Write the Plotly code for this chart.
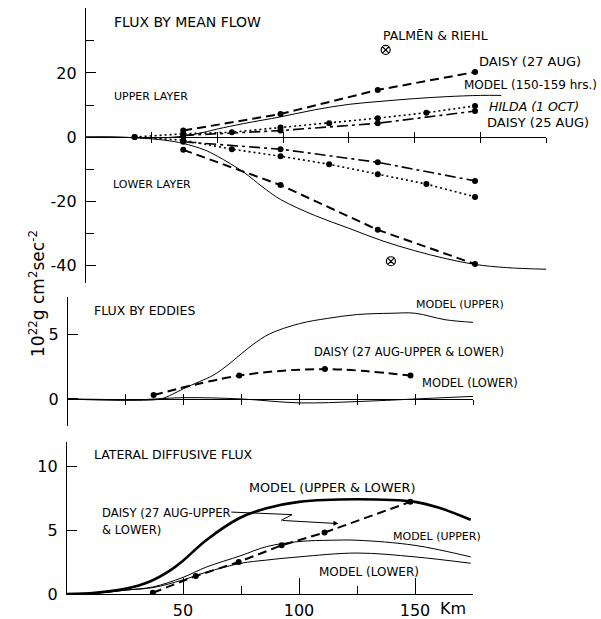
import plotly.graph_objects as go

W, H = 601, 619

# ---------------- data ----------------
daisy_km = [37, 74, 111, 148]
hilda_km = [18.5, 37, 55.5, 74, 92.5, 111, 129.5, 148]

# Flux by mean flow
daisy27_upper = [2.0, 7.2, 14.7, 20.3]
daisy27_lower = [-4.0, -15.0, -29.0, -39.7]
daisy25_upper = [0.5, 2.0, 4.3, 8.1]
daisy25_lower = [-1.5, -3.8, -7.9, -13.7]
hilda_upper = [0.0, 1.0, 1.5, 3.0, 4.3, 5.9, 7.6, 9.7]
hilda_lower = [0.0, -1.0, -3.8, -6.0, -8.5, -11.6, -14.7, -18.7]

mf_model_up_km = [0, 10, 20, 30, 37, 45, 50, 60, 74, 87, 100, 113, 125, 137, 150, 158]
mf_model_up = [0, 0, -0.2, -0.2, 0.3, 1.5, 2.5, 4.2, 6.3, 8.5, 10.2, 11.2, 12.0, 12.6, 13.0, 13.0]
mf_model_lo_km = [0, 10, 20, 30, 37, 45, 50, 60, 67, 74, 87, 100, 113, 125, 137, 148, 160, 175]
mf_model_lo = [0, 0, -0.3, -1.0, -2.0, -4.0, -6.0, -11.0, -15.5, -19.5, -24.5, -28.5, -32.5, -35.5, -38.0, -39.8, -40.8, -41.3]

palmen_km = [114, 116]
palmen_val = [27.2, -38.8]

# Flux by eddies
ed_model_up_km = [0, 20, 30, 40, 45, 50, 57, 63, 70, 75, 80, 87, 100, 112, 125, 140, 150, 163, 175]
ed_model_up = [0, -0.05, -0.1, 0, 0.35, 0.8, 1.35, 1.85, 2.75, 3.5, 4.2, 5.0, 5.8, 6.2, 6.5, 6.6, 6.6, 6.1, 5.9]
ed_model_lo_km = [0, 25, 50, 75, 100, 125, 150, 175]
ed_model_lo = [0, -0.1, 0.1, 0.0, -0.3, -0.2, 0.0, 0.2]
ed_daisy = [0.3, 1.8, 2.3, 1.8]

# Lateral diffusive flux
lat_tot_km = [0, 12, 25, 36, 45, 50, 60, 74, 86, 100, 125, 150, 161, 174]
lat_tot = [0, 0.1, 0.4, 1.0, 1.9, 2.6, 4.2, 5.9, 6.7, 7.2, 7.4, 7.2, 6.7, 5.8]
lat_up_km = [0, 12, 25, 37, 50, 60, 75, 86, 100, 114, 125, 150, 174]
lat_up = [0, 0.05, 0.3, 0.55, 1.3, 2.1, 3.0, 3.7, 4.1, 4.2, 4.2, 3.8, 2.9]
lat_lo_km = [0, 12, 25, 37, 50, 60, 75, 86, 100, 125, 150, 174]
lat_lo = [0, 0.05, 0.3, 0.5, 1.1, 1.7, 2.4, 2.65, 2.9, 3.2, 2.9, 2.4]
lat_daisy_km = [37, 55.5, 74, 92.5, 111, 148]
lat_daisy = [0.1, 1.4, 2.5, 3.8, 4.8, 7.2]

# pointer from label to Daisy curve (bottom panel, data units)
ptr_km = [70.8, 97, 92.3]
ptr_val = [6.4, 6.2, 5.75]
ptr_tip = (117, 5.5)

top_ticks = [25, 50, 75, 100, 125, 150, 175]
top_yticks = [-40, -20, 0, 20]
top_ylabels = ["-40", "-20", "0", "20"]

# ---------------- styles ----------------
K = "black"
DASH = "9px,5px"
DASHDOT = "11px,4px,3px,4px"
DOT = "2px,3px"


def px(x):
    return x / W


def py(y):
    return 1 - y / H


fig = go.Figure()


def line(x, y, xa, ya, dash="solid", width=1, markers=False, shape="linear"):
    fig.add_trace(go.Scatter(
        x=x, y=y, xaxis=xa, yaxis=ya,
        mode="lines+markers" if markers else "lines",
        line=dict(color=K, width=width, dash=dash, shape=shape),
        marker=dict(color=K, size=6),
        showlegend=False, hoverinfo="skip"))


# top panel
line(mf_model_up_km, mf_model_up, "x", "y", width=1, shape="spline")
line(mf_model_lo_km, mf_model_lo, "x", "y", width=1, shape="spline")
line(daisy_km, daisy27_upper, "x", "y", DASH, 2, True)
line(daisy_km, daisy27_lower, "x", "y", DASH, 2, True)
line(daisy_km, daisy25_upper, "x", "y", DASHDOT, 1.6, True)
line(daisy_km, daisy25_lower, "x", "y", DASHDOT, 1.6, True)
line(hilda_km, hilda_upper, "x", "y", DOT, 1.6, True)
line(hilda_km, hilda_lower, "x", "y", DOT, 1.6, True)
fig.add_trace(go.Scatter(x=palmen_km, y=palmen_val, xaxis="x", yaxis="y", mode="markers",
                         marker=dict(symbol="circle-x-open", size=9, color=K, line=dict(width=1.2)),
                         showlegend=False, hoverinfo="skip"))

# middle panel
line(ed_model_up_km, ed_model_up, "x2", "y2", width=1, shape="spline")
line(ed_model_lo_km, ed_model_lo, "x2", "y2", width=1, shape="spline")
line(daisy_km, ed_daisy, "x2", "y2", DASH, 2, True, "spline")

# bottom panel
line(lat_tot_km, lat_tot, "x3", "y3", width=2.6, shape="spline")
line(lat_up_km, lat_up, "x3", "y3", width=1, shape="spline")
line(lat_lo_km, lat_lo, "x3", "y3", width=1, shape="spline")
line(lat_daisy_km, lat_daisy, "x3", "y3", DASH, 2, True)
line(ptr_km, ptr_val, "x3", "y3", width=1)

# dummy traces for overlay tick axes (tick marks crossing the zero line)
fig.add_trace(go.Scatter(x=[None], y=[None], xaxis="x4", yaxis="y", showlegend=False))
fig.add_trace(go.Scatter(x=[None], y=[None], xaxis="x5", yaxis="y2", showlegend=False))

TF = dict(family="DejaVu Sans", size=16, color=K)

xr = [0, 175]
common_x = dict(range=xr, showgrid=False, zeroline=False, color=K, linecolor=K, linewidth=1.2,
                tickcolor=K, tickwidth=1.2, automargin=False)
common_y = dict(showgrid=False, zeroline=False, linecolor=K, linewidth=1.4, showline=True,
                tickcolor=K, tickwidth=1.2, ticks="inside", ticklen=10, tickfont=TF,
                ticklabelstandoff=5, automargin=False)

top_dom = [px(86), px(546)]
mid_dom = [px(68), px(473)]
bot_dom = [px(67), px(473)]

fig.update_layout(
    width=W, height=H, margin=dict(l=0, r=0, t=0, b=0, autoexpand=False),
    paper_bgcolor="white", plot_bgcolor="white",
    xaxis=dict(common_x, domain=top_dom, anchor="free", position=py(137), showline=True,
               tickvals=top_ticks, ticks="outside", ticklen=5, showticklabels=False),
    xaxis4=dict(common_x, overlaying="x", anchor="free", position=py(137), showline=False,
                tickvals=top_ticks, ticks="inside", ticklen=5, showticklabels=False),
    yaxis=dict(common_y, domain=[py(283), py(8)], anchor="x", range=[-45.6, 40.3],
               tickvals=top_yticks, ticktext=top_ylabels,
               minor=dict(tickvals=[-30, -10, 10, 30], ticks="inside", ticklen=8, tickcolor=K)),
    xaxis2=dict(common_x, domain=mid_dom, anchor="free", position=py(399), showline=True,
                tickvals=top_ticks, ticks="outside", ticklen=5, showticklabels=False),
    xaxis5=dict(common_x, overlaying="x2", anchor="free", position=py(399), showline=False,
                tickvals=top_ticks, ticks="inside", ticklen=5, showticklabels=False),
    yaxis2=dict(common_y, domain=[py(426), py(297)], anchor="x2", range=[-2.08, 7.85],
                tickvals=[0, 5]),
    xaxis3=dict(common_x, domain=bot_dom, anchor="y3", showline=True,
                tickvals=[50, 100, 150], ticktext=["50", "100", "150"], ticks="inside", ticklen=16,
                tickfont=TF, ticklabelstandoff=2,
                minor=dict(tickvals=[75, 125, 175], ticks="inside", ticklen=8, tickcolor=K)),
    yaxis3=dict(common_y, domain=[py(594), py(442)], anchor="x3", range=[0, 11.875],
                tickvals=[0, 5, 10]),
)

LF = "DejaVu Sans"


def label(text, x, y, size=12, anchor="left", italic=False):
    if italic:
        text = "<i>" + text + "</i>"
    fig.add_annotation(text=text, x=px(x), y=py(y), xref="paper", yref="paper",
                       xanchor=anchor, yanchor="middle", showarrow=False,
                       font=dict(family=LF, size=size, color=K))


label("FLUX BY MEAN FLOW", 112, 22, 14)
label("UPPER LAYER", 112, 96, 11)
label("LOWER LAYER", 111, 184, 11)
label("PALMĒN &amp; RIEHL", 435, 35, 12.5, "center")
label("DAISY (27 AUG)", 477, 61, 13)
label("MODEL (150-159 hrs.)", 462, 85, 12)
label("HILDA (1 OCT)", 487, 107, 12.5, italic=True)
label("DAISY (25 AUG)", 485, 122, 13)
label("FLUX BY EDDIES", 92, 310, 12.5)
label("MODEL (UPPER)", 414, 304, 11)
label("DAISY (27 AUG-UPPER &amp; LOWER)", 312, 352, 11.5)
label("MODEL (LOWER)", 420, 383, 11.5)
label("LATERAL DIFFUSIVE FLUX", 92, 454, 12.5)
label("MODEL (UPPER &amp; LOWER)", 247, 487, 12.8)
label("DAISY (27 AUG-UPPER", 100, 513, 11.6)
label("&amp; LOWER)", 100, 530, 11.6)
label("MODEL (UPPER)", 391, 536, 11)
label("MODEL (LOWER)", 317, 572, 12)
label("Km", 438, 608, 16)

fig.add_annotation(text="10<sup>22</sup>g cm<sup>2</sup>sec<sup>-2</sup>", x=px(24), y=py(294),
                   xref="paper", yref="paper", textangle=-90, showarrow=False,
                   font=dict(family=LF, size=17, color=K))

# arrow head of the pointer
fig.add_annotation(x=ptr_tip[0], y=ptr_tip[1], ax=ptr_km[-1], ay=ptr_val[-1],
                   xref="x3", yref="y3", axref="x3", ayref="y3", text="",
                   showarrow=True, arrowhead=2, arrowsize=1, arrowwidth=1, arrowcolor=K)

fig.write_html("out.html")
